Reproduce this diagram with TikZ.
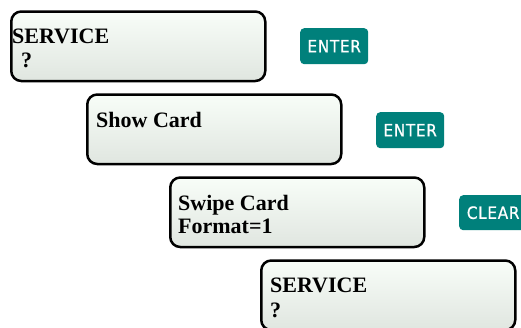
\documentclass[tikz,border=0pt]{standalone}
\usepackage{fontspec}
\setmainfont{Liberation Serif}
\newfontfamily\btnfont[FakeBold=0.7,LetterSpace=4]{DejaVu Sans Condensed}
\definecolor{teal2}{RGB}{0,128,123}
\definecolor{lcdtop}{RGB}{248,253,248}
\definecolor{lcdbot}{RGB}{224,230,224}
\begin{document}
\begin{tikzpicture}[x=1pt,y=-1pt,
  lcd/.style={draw=black, line width=2.5pt, rounded corners=10pt,
    top color=lcdtop, bottom color=lcdbot, shading angle=0,
    minimum width=254pt, minimum height=69.5pt, inner sep=0pt, anchor=north west},
  lcdtext/.style={anchor=base west, inner sep=0pt,
    font=\fontsize{22}{24}\selectfont\bfseries},
  btn/.style={fill=teal2, rounded corners=4pt, text=white, inner sep=0pt,
    minimum width=68pt, minimum height=36pt, anchor=north west,
    font=\btnfont\fontsize{17}{18}\selectfont}]
\useasboundingbox (0,0) rectangle (521,327);
\clip (0,0) rectangle (521,327);
% boxes
\node[lcd] (b1) at (10,10.25) {};
\node[lcd] (b2) at (86,93.25) {};
\node[lcd] (b3) at (169,176.25) {};
\node[lcd] (b4) at (260,259.25) {};
% texts
\node[lcdtext] (t1a) at (12,43) {SERVICE};
\node[lcdtext] (t1b) at (21,67) {?};
\node[lcdtext] (t2a) at (96,127) {Show Card};
\node[lcdtext] (t3a) at (178,210) {Swipe Card};
\node[lcdtext] (t3b) at (178,233) {Format=1};
\node[lcdtext] (t4a) at (270,292) {SERVICE};
\node[lcdtext] (t4b) at (270,317) {?};
% buttons
\node[btn] (e1) at (300,28) {ENTER};
\node[btn] (e2) at (376,112) {ENTER};
\node[btn, minimum height=35pt] (c1) at (459,195) {CLEAR};
\end{tikzpicture}
\end{document}
